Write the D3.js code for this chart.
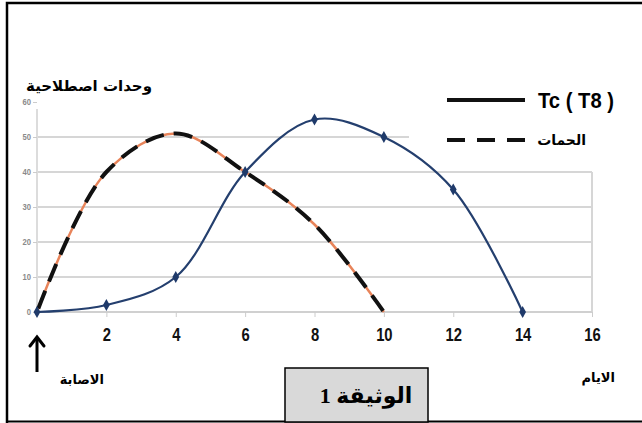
<!DOCTYPE html>
<html><head><meta charset="utf-8">
<script src="https://cdn.jsdelivr.net/npm/d3@7"></script>
<style>body{margin:0;background:#fff}svg{display:block}</style>
</head><body>
<script>
const days = [0, 2, 4, 6, 8, 10, 12, 14];
const tcValues = [0, 2, 10, 40, 55, 50, 35, 0];
const virusDays = [0, 2, 4, 6, 8, 10];
const virusValues = [0, 40, 51, 40, 25, 0];
const xTicks = [2, 4, 6, 8, 10, 12, 14, 16];
const yTicks = [0, 10, 20, 30, 40, 50, 60];
const yGrid = [10, 20, 30, 40, 50];
const yTitle = "وحدات اصطلاحية";
const xTitle = "الايام";
const infectionLabel = "الاصابة";
const legendLabels = ["Tc ( T8 )", "الحمات"];
const docLabel = "الوثيقة 1";

const W = 642, H = 423;
const svg = d3.select("body").append("svg").attr("width", W).attr("height", H);

const x = d3.scaleLinear().domain([0, 16]).range([37, 592]);
const y = d3.scaleLinear().domain([0, 60]).range([312, 102]);

// outer frame
svg.append("path").attr("d", `M7,${H} L7,3 L${W},3`).attr("fill","none").attr("stroke","#000").attr("stroke-width",2.5);
svg.append("line").attr("x1",7).attr("x2",W).attr("y1",421.5).attr("y2",421.5).attr("stroke","#000").attr("stroke-width",2);

// gridlines
const g = svg.append("g");
g.selectAll("line.grid").data(yGrid).join("line")
  .attr("x1", x(0)).attr("x2", x(16))
  .attr("y1", d => y(d)).attr("y2", d => y(d))
  .attr("stroke", "#d6d6d6").attr("stroke-width", 2);
g.append("line").attr("x1", x(16)).attr("x2", x(16)).attr("y1", y(40)).attr("y2", y(0))
  .attr("stroke", "#d6d6d6").attr("stroke-width", 2);
g.append("line").attr("x1", x(0)).attr("x2", x(0)).attr("y1", y(58)).attr("y2", y(0))
  .attr("stroke", "#dcdcdc").attr("stroke-width", 2);
g.append("line").attr("x1", x(0)).attr("x2", x(16)).attr("y1", y(0)).attr("y2", y(0))
  .attr("stroke", "#d0d0d0").attr("stroke-width", 2);

// legend white cover
svg.append("rect").attr("x", 409).attr("y", 60).attr("width", 233).attr("height", 106).attr("fill", "#fff");

// y ticks
const yAxis = d3.axisLeft(y).tickValues(yTicks).tickSize(4).tickPadding(3);
const ya = svg.append("g").attr("transform", `translate(${x(0)},0)`).call(yAxis);
ya.select(".domain").remove();
ya.selectAll("line").attr("stroke", "#cccccc");
ya.selectAll("text").attr("fill", "#8a8a8a").attr("font-family", "Liberation Sans, Arial").attr("font-size", 9).attr("font-weight","bold")
  .attr("transform", "scale(0.85,1)");

// x ticks
const xAxis = d3.axisBottom(x).tickValues(xTicks).tickSize(5).tickPadding(11);
const xa = svg.append("g").attr("transform", `translate(0,${y(0)})`).call(xAxis);
xa.select(".domain").remove();
xa.selectAll("line").attr("stroke", "#cccccc");
xa.selectAll("text").attr("fill", "#111").attr("font-family", "Liberation Sans, Arial")
  .attr("font-size", 19).attr("font-weight", "bold").attr("transform", "scale(0.78,1)");

const curve = d3.curveCatmullRom.alpha(0.5);

// virus series: orange underlay + black dashes
const vData = virusDays.map((d, i) => [d, virusValues[i]]);
const vLine = d3.line().x(d => x(d[0])).y(d => y(d[1])).curve(curve);
svg.append("path").attr("d", vLine(vData)).attr("fill", "none").attr("stroke", "#e8845a").attr("stroke-width", 2.5);
svg.append("path").attr("d", vLine(vData)).attr("fill", "none").attr("stroke", "#111")
  .attr("stroke-width", 4).attr("stroke-dasharray", "19,10").attr("stroke-dashoffset", -4);

// Tc series
const tData = days.map((d, i) => [d, tcValues[i]]);
const tLine = d3.line().x(d => x(d[0])).y(d => y(d[1])).curve(curve);
svg.append("path").attr("d", tLine(tData)).attr("fill", "none").attr("stroke", "#243f6e").attr("stroke-width", 2.2);
svg.selectAll("path.mk").data(tData).join("path")
  .attr("d", d3.symbol(d3.symbolDiamond, 40))
  .attr("transform", d => `translate(${x(d[0])},${y(d[1])})`)
  .attr("fill", "#1f3a6a");

// titles
const arab = "DejaVu Sans, Noto Sans, sans-serif";
svg.append("text").attr("x", 152).attr("y", 91).attr("text-anchor", "end")
  .attr("font-family", arab).attr("font-weight", "bold").attr("font-size", 15).attr("fill","#000").text(yTitle);
svg.append("text").attr("x", 615).attr("y", 382).attr("text-anchor", "end")
  .attr("font-family", arab).attr("font-weight", "bold").attr("font-size", 13).attr("fill","#000").text(xTitle);
svg.append("text").attr("x", 104).attr("y", 384).attr("text-anchor", "end")
  .attr("font-family", arab).attr("font-weight", "bold").attr("font-size", 13).attr("fill","#000").text(infectionLabel);

// arrow
svg.append("line").attr("x1", x(0)).attr("x2", x(0)).attr("y1", 372).attr("y2", 338).attr("stroke","#000").attr("stroke-width",3);
svg.append("path").attr("d", `M${x(0)-7},${346} L${x(0)},${337} L${x(0)+7},${346}`).attr("fill","none")
  .attr("stroke","#000").attr("stroke-width",3).attr("stroke-linecap","round").attr("stroke-linejoin","miter");

// legend
svg.append("line").attr("x1", 447).attr("x2", 525).attr("y1", 100).attr("y2", 100).attr("stroke","#111").attr("stroke-width",4);
svg.append("line").attr("x1", 447).attr("x2", 525).attr("y1", 140).attr("y2", 140).attr("stroke","#111").attr("stroke-width",4).attr("stroke-dasharray","18,12");
svg.append("text").attr("x", 538 / 0.92).attr("y", 108).attr("transform", "scale(0.92,1)").attr("font-family", "Liberation Sans, Arial")
  .attr("font-weight","bold").attr("font-size",22).attr("fill","#000").text(legendLabels[0]);
svg.append("text").attr("x", 586).attr("y", 145).attr("text-anchor","end").attr("font-family", arab)
  .attr("font-weight","bold").attr("font-size",14).attr("fill","#000").text(legendLabels[1]);

// document box
svg.append("rect").attr("x", 285).attr("y", 368).attr("width", 143).attr("height", 54)
  .attr("fill", "#d9d9d9").attr("stroke", "#000").attr("stroke-width", 1.5);
svg.append("text").attr("x", 366).attr("y", 403).attr("text-anchor","middle").attr("direction","rtl")
  .attr("font-family", "Liberation Serif, DejaVu Sans, serif").attr("font-weight","bold").attr("font-size",22).attr("fill","#000").text(docLabel);
</script>
</body></html>
